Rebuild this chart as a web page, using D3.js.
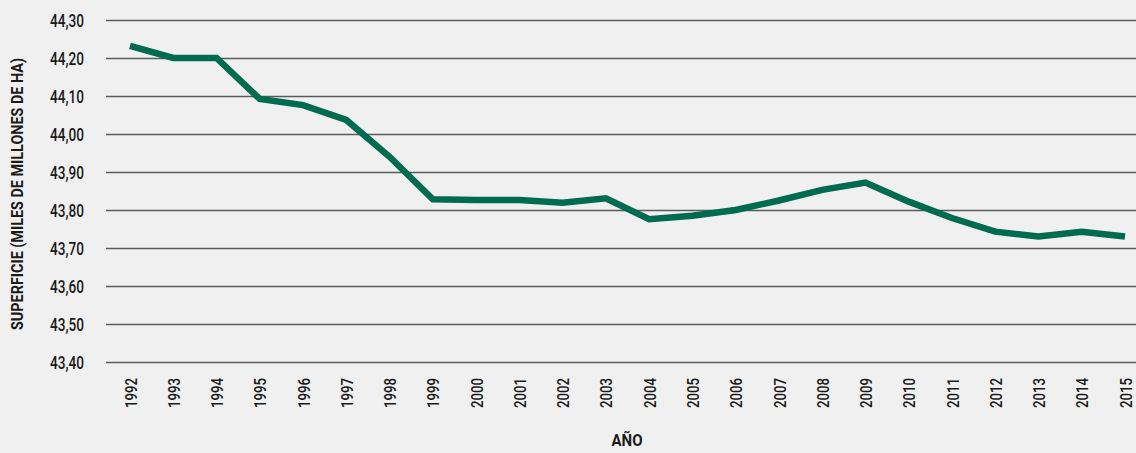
<!DOCTYPE html>
<html><head><meta charset="utf-8">
<script src="https://cdn.jsdelivr.net/npm/d3@7"></script>
<style>
html,body{margin:0;padding:0;background:#f0f0f0;}
svg{display:block;}
text{font-family:Roboto,sans-serif;fill:#1a1a1a;}
</style></head>
<body>
<svg id="c" width="1136" height="453"></svg>
<script>
const years = ["1992","1993","1994","1995","1996","1997","1998","1999","2000","2001","2002","2003","2004","2005","2006","2007","2008","2009","2010","2011","2012","2013","2014","2015"];
const surface = [44.232,44.200,44.200,44.092,44.076,44.037,43.940,43.828,43.826,43.826,43.819,43.831,43.776,43.785,43.800,43.825,43.853,43.872,43.822,43.779,43.743,43.730,43.743,43.730];
const yTicks = [43.40,43.50,43.60,43.70,43.80,43.90,44.00,44.10,44.20,44.30];
const yTitle = "SUPERFICIE (MILES DE MILLONES DE HA)";
const xTitle = "AÑO";

const svg = d3.select("#c");
const W = 1136, H = 453;
svg.append("rect").attr("width",W).attr("height",H).attr("fill","#f0f0f0");

const gridLeft = 106, gridRight = 1136;
const x = d3.scalePoint().domain(years).range([130,1125]);
const y = d3.scaleLinear().domain([43.40,44.30]).range([362,20]);

const fmt = v => d3.format(".2f")(v).replace(".",",");
const FONT = "Roboto";

// gridlines
svg.append("g").selectAll("line").data(yTicks).join("line")
  .attr("x1",gridLeft).attr("x2",gridRight)
  .attr("y1",d=>Math.round(y(d))+0.5).attr("y2",d=>Math.round(y(d))+0.5)
  .attr("stroke","#5a5a5a").attr("stroke-width",1.5);

// y axis labels
const yAxis = d3.axisLeft(y).tickValues(yTicks).tickFormat(fmt).tickSize(0).tickPadding(0);
const ga = svg.append("g").attr("transform","translate(84,0)").call(yAxis);
ga.select(".domain").remove();
ga.selectAll("text").attr("font-size",18).attr("font-family",FONT).attr("font-weight",500)
  .attr("fill","#1a1a1a").attr("dy","0.36em")
  .attr("textLength",34).attr("lengthAdjust","spacingAndGlyphs");

// x axis labels
const xAxis = d3.axisBottom(x).tickSize(0).tickPadding(0);
const gx = svg.append("g").attr("transform","translate(0,378)").call(xAxis);
gx.select(".domain").remove();
gx.selectAll("text")
  .attr("font-size",17).attr("font-family",FONT).attr("font-weight",500).attr("fill","#1a1a1a")
  .attr("transform","rotate(-90)")
  .attr("text-anchor","end").attr("x",0).attr("y",0).attr("dy","0.36em")
  .attr("textLength",30).attr("lengthAdjust","spacingAndGlyphs");

// line
svg.append("path").datum(surface)
  .attr("fill","none").attr("stroke","#006b4e").attr("stroke-width",6.5)
  .attr("stroke-linejoin","miter")
  .attr("d", d3.line().x((d,i)=>x(years[i])).y(d=>y(d)));

// titles
svg.append("text").attr("transform","translate(23,194) rotate(-90)")
  .attr("text-anchor","middle").attr("font-size",16).attr("font-weight","bold").attr("font-family",FONT)
  .attr("textLength",272).attr("lengthAdjust","spacingAndGlyphs")
  .text(yTitle);
svg.append("text").attr("x",627).attr("y",446).attr("text-anchor","middle")
  .attr("font-size",17).attr("font-weight","bold").attr("font-family",FONT)
  .attr("textLength",31).attr("lengthAdjust","spacingAndGlyphs").text(xTitle);
</script>
</body></html>
